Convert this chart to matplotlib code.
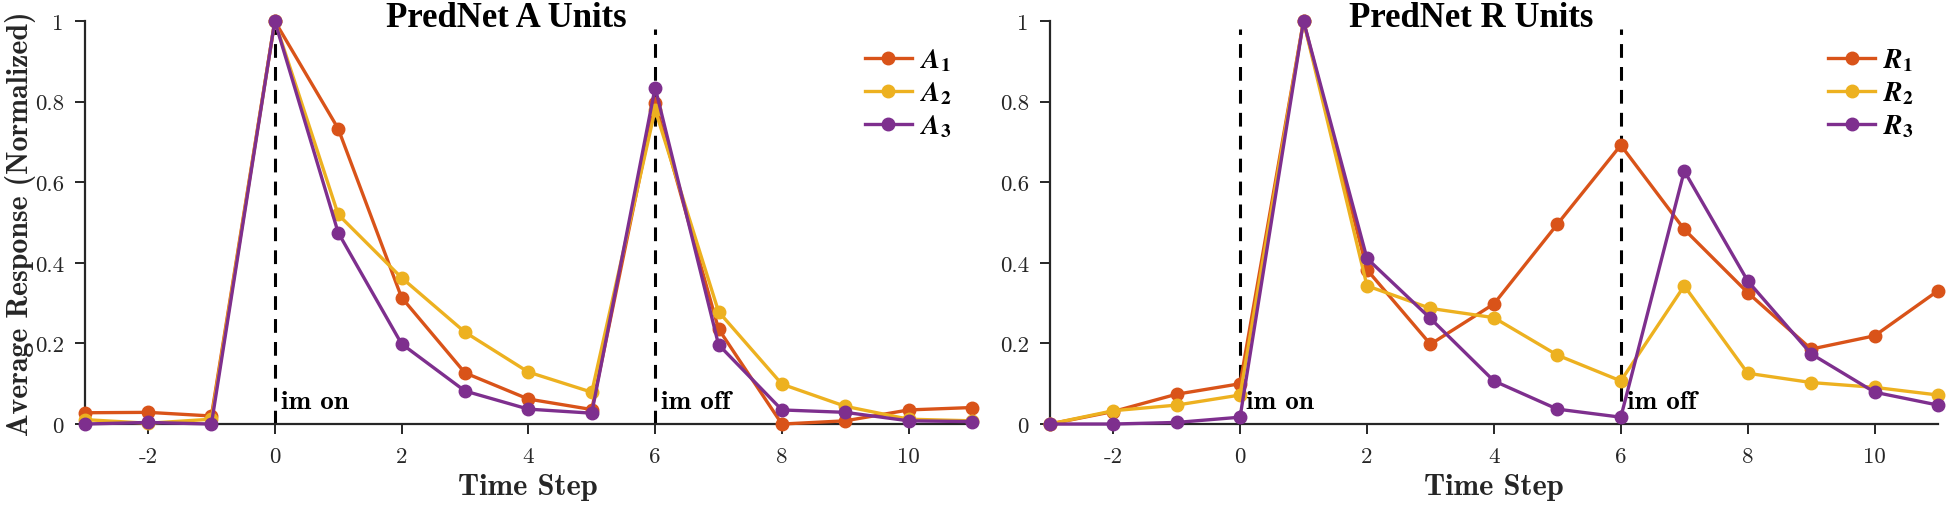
import numpy as np
import matplotlib
matplotlib.use("Agg")
import matplotlib.pyplot as plt

plt.rcParams['axes.unicode_minus'] = False

# ---- data ----
steps = [-3, -2, -1, 0, 1, 2, 3, 4, 5, 6, 7, 8, 9, 10, 11]

a1 = [0.028, 0.029, 0.020, 1.0, 0.733, 0.314, 0.127, 0.062, 0.036, 0.797, 0.236, 0.0, 0.008, 0.035, 0.041]
a2 = [0.011, 0.002, 0.012, 1.0, 0.520, 0.363, 0.228, 0.129, 0.079, 0.780, 0.279, 0.099, 0.044, 0.012, 0.008]
a3 = [0.0, 0.004, 0.0, 1.0, 0.475, 0.199, 0.082, 0.037, 0.027, 0.835, 0.197, 0.035, 0.029, 0.008, 0.006]

r1 = [0.0, 0.031, 0.074, 0.100, 1.0, 0.383, 0.198, 0.298, 0.496, 0.692, 0.483, 0.326, 0.186, 0.219, 0.331]
r2 = [0.0, 0.033, 0.047, 0.072, 1.0, 0.343, 0.287, 0.264, 0.171, 0.107, 0.343, 0.126, 0.103, 0.091, 0.072]
r3 = [0.0, 0.0, 0.004, 0.017, 1.0, 0.411, 0.262, 0.107, 0.037, 0.017, 0.628, 0.355, 0.174, 0.079, 0.047]

a_labels = [r'$\mathbfit{A}_{\mathbf{1}}$', r'$\mathbfit{A}_{\mathbf{2}}$', r'$\mathbfit{A}_{\mathbf{3}}$']
r_labels = [r'$\mathbfit{R}_{\mathbf{1}}$', r'$\mathbfit{R}_{\mathbf{2}}$', r'$\mathbfit{R}_{\mathbf{3}}$']

events = [0, 6]
event_names = ['im on', 'im off']

xticks = [-2, 0, 2, 4, 6, 8, 10]
yticks = [0, 0.2, 0.4, 0.6, 0.8, 1]
ytick_labels = ['0', '0.2', '0.4', '0.6', '0.8', '1']

colors = ['#D95319', '#EDB120', '#7E2F8E']
gray = '#262626'

fig = plt.figure(figsize=(19.5, 5.06), dpi=100)
ax_a = fig.add_axes([0.0434, 0.160, 0.4551, 0.7964])
ax_r = fig.add_axes([0.5383, 0.160, 0.4556, 0.7964])


def draw_panel(ax, series, labels, title, legend_x):
    for ev, name in zip(events, event_names):
        ax.plot([ev, ev], [0, 0.98], color='black', lw=2.2,
                linestyle=(0, (4.5, 3)), zorder=1)
        ax.text(ev + 0.1, 0.028, name, fontfamily='cmb10', fontsize=19.5,
                color='black', va='bottom', ha='left')
    for ys, c, lab in zip(series, colors, labels):
        ax.plot(steps, ys, '-o', color=c, lw=2.4, ms=9, label=lab,
                clip_on=False, zorder=3)

    ax.set_xlim(-3, 11)
    ax.set_ylim(0, 1)
    ax.set_xticks(xticks)
    ax.set_xticklabels([str(t) for t in xticks])
    ax.set_yticks(yticks)
    ax.set_yticklabels(ytick_labels)
    for lbl in ax.get_xticklabels() + ax.get_yticklabels():
        lbl.set_fontfamily('cmr10')
        lbl.set_fontsize(16.5)
        lbl.set_color(gray)
    ax.tick_params(direction='out', length=7, width=1.4, color=gray)
    ax.tick_params(axis='x', pad=9)
    ax.tick_params(axis='y', pad=8)
    for s in ['top', 'right']:
        ax.spines[s].set_visible(False)
    for s in ['left', 'bottom']:
        ax.spines[s].set_color(gray)
        ax.spines[s].set_linewidth(1.6)

    xl = ax.set_xlabel('Time Step', fontfamily='cmb10', fontsize=22, color=gray)
    xl.set_va('center')
    ax.xaxis.set_label_coords(0.5, -0.155)

    ax.text(0.475, 0.988, title, transform=ax.transAxes, ha='center',
            va='baseline', fontfamily='Liberation Serif', fontweight='bold',
            fontsize=25, color='black')

    leg = ax.legend(loc='upper left', bbox_to_anchor=(legend_x, 0.94),
                    frameon=False, fontsize=20, handlelength=1.7,
                    handletextpad=0.3, labelspacing=0.18, borderpad=0,
                    borderaxespad=0)
    for t in leg.get_texts():
        t.set_math_fontfamily('stix')
    return leg


draw_panel(ax_a, [a1, a2, a3], a_labels, 'PredNet A Units', 0.879)
draw_panel(ax_r, [r1, r2, r3], r_labels, 'PredNet R Units', 0.876)

yl = ax_a.set_ylabel('Average Response (Normalized)', fontfamily='cmb10',
                     fontsize=21.5, color=gray)
yl.set_va('center')
ax_a.yaxis.set_label_coords(-0.0725, 0.5)

fig.savefig('out.png', dpi=100)
